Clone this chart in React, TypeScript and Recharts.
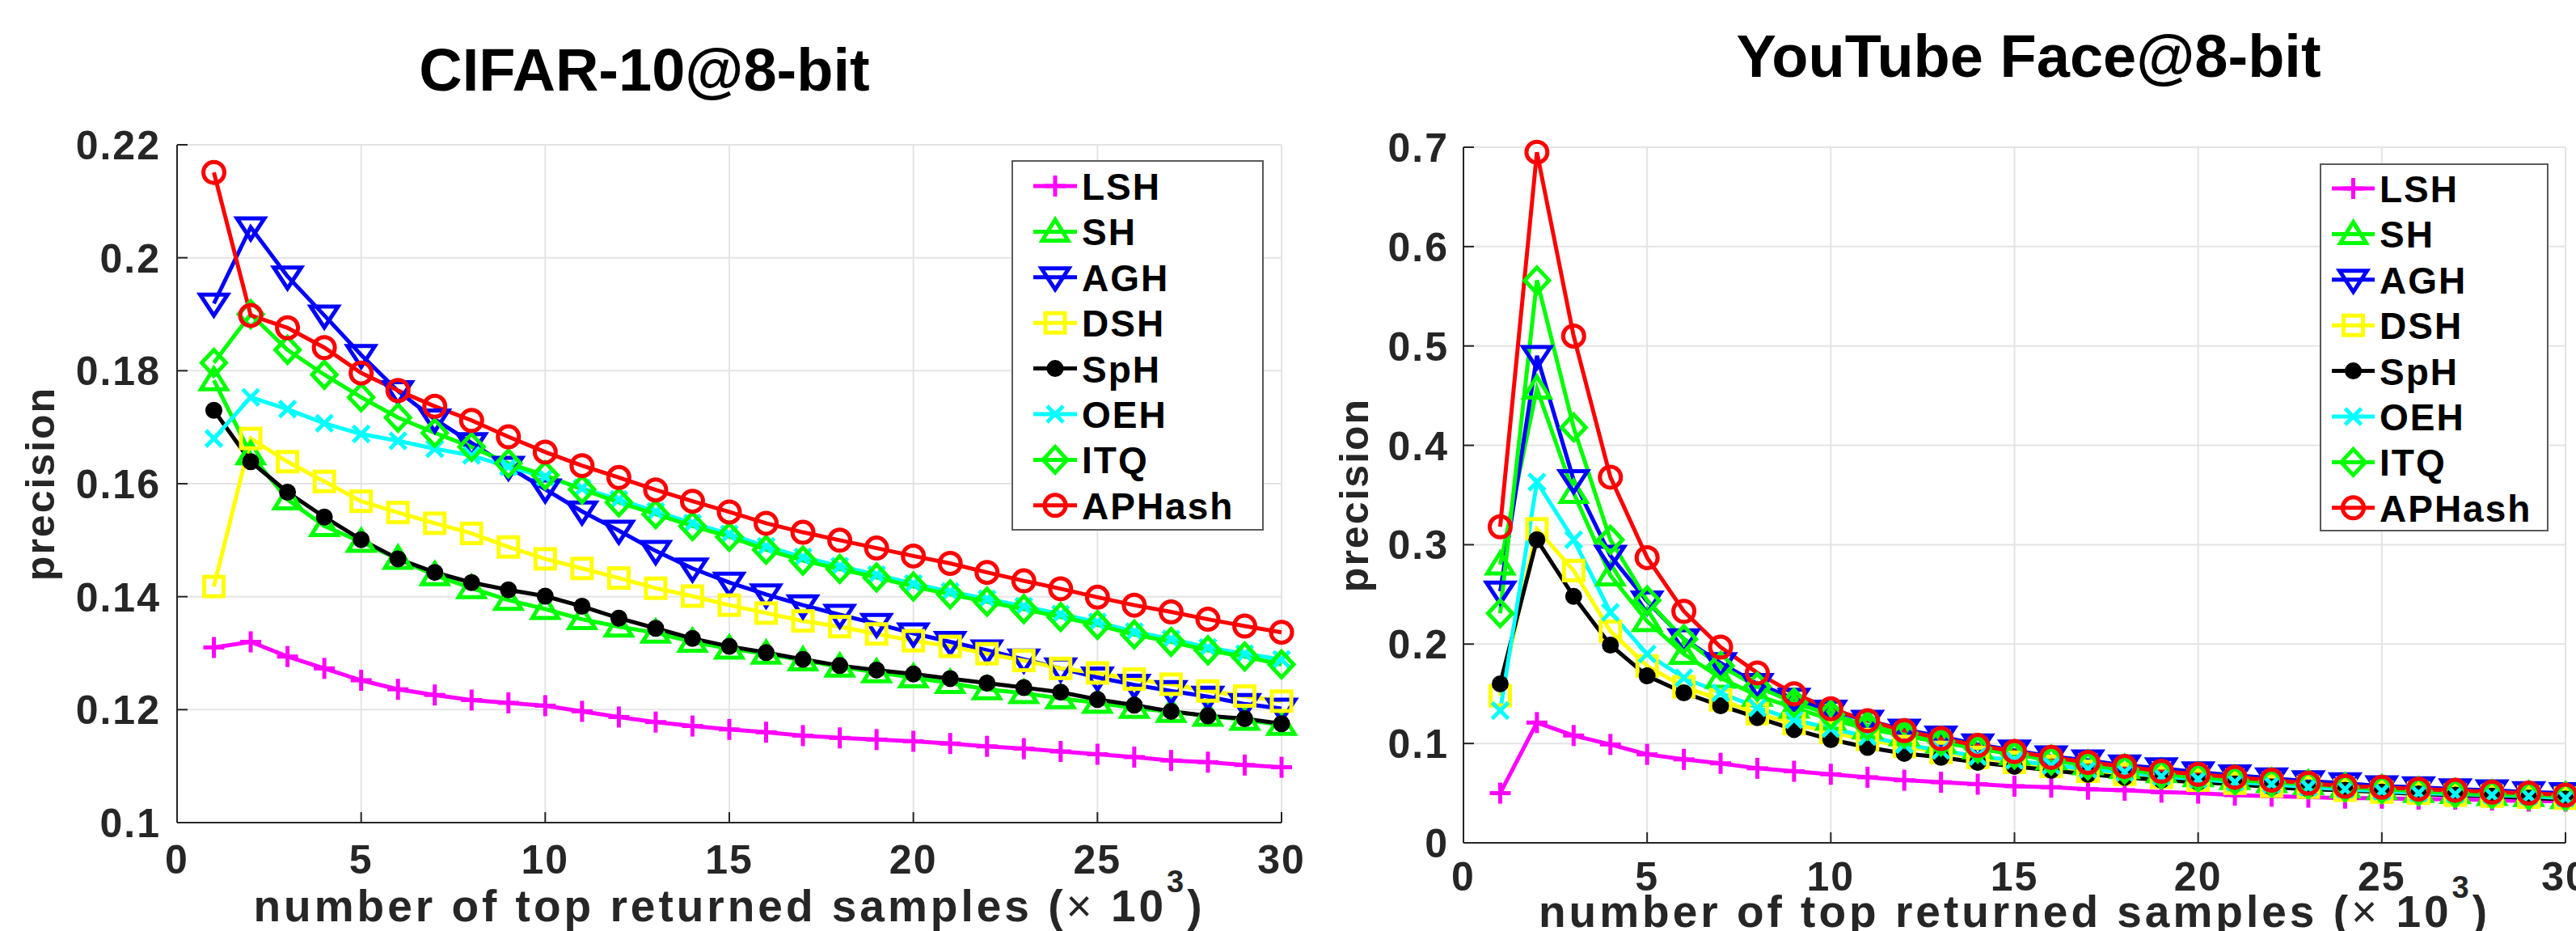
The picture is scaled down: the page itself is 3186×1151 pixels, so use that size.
import React from 'react';
import { CartesianGrid, Label, Legend, Line, LineChart, XAxis, YAxis } from 'recharts';

const FONT = '"Liberation Sans", Arial, Helvetica, sans-serif';
const AXIS = '#262626';
const GRID = '#e4e4e4';

const samples = [1, 2, 3, 4, 5, 6, 7, 8, 9, 10, 11, 12, 13, 14, 15, 16, 17, 18, 19, 20, 21, 22, 23, 24, 25, 26, 27, 28, 29, 30];
const xTicks = [0, 5, 10, 15, 20, 25, 30];
const cifarYTicks = [0.1, 0.12, 0.14, 0.16, 0.18, 0.2, 0.22];
const ytfYTicks = [0, 0.1, 0.2, 0.3, 0.4, 0.5, 0.6, 0.7];

const methods = ['LSH', 'SH', 'AGH', 'DSH', 'SpH', 'OEH', 'ITQ', 'APHash'];
const methodColors = ['#ff00ff', '#00ff00', '#0000ff', '#ffff00', '#000000', '#00ffff', '#00ff00', '#ff0000'];
const methodMarkers = ['plus', 'up', 'down', 'square', 'dot', 'cross', 'diamond', 'circle'];

// CIFAR-10 @ 8-bit
const cifarLSH = [0.1310, 0.1320, 0.1294, 0.1273, 0.1252, 0.1236, 0.1226, 0.1217, 0.1212, 0.1207, 0.1197, 0.1187, 0.1178, 0.1171, 0.1165, 0.1160, 0.1154, 0.1150, 0.1147, 0.1144, 0.1140, 0.1135, 0.1131, 0.1126, 0.1121, 0.1116, 0.1110, 0.1107, 0.1102, 0.1098];
const cifarSH = [0.1783, 0.1652, 0.1572, 0.1525, 0.1497, 0.1467, 0.1438, 0.1415, 0.1394, 0.1378, 0.1360, 0.1347, 0.1336, 0.1320, 0.1308, 0.1299, 0.1287, 0.1276, 0.1266, 0.1257, 0.1247, 0.1236, 0.1229, 0.1220, 0.1212, 0.1203, 0.1196, 0.1189, 0.1182, 0.1173];
const cifarAGH = [0.1919, 0.2054, 0.1967, 0.1898, 0.1828, 0.1764, 0.1714, 0.1672, 0.1630, 0.1590, 0.1551, 0.1517, 0.1481, 0.1450, 0.1425, 0.1404, 0.1385, 0.1368, 0.1352, 0.1335, 0.1320, 0.1305, 0.1289, 0.1273, 0.1257, 0.1244, 0.1233, 0.1223, 0.1210, 0.1202];
const cifarDSH = [0.1418, 0.1680, 0.1639, 0.1604, 0.1569, 0.1549, 0.1530, 0.1512, 0.1488, 0.1467, 0.1450, 0.1433, 0.1415, 0.1401, 0.1385, 0.1371, 0.1357, 0.1347, 0.1334, 0.1322, 0.1312, 0.1299, 0.1287, 0.1273, 0.1265, 0.1254, 0.1245, 0.1233, 0.1224, 0.1215];
const cifarSpH = [0.1730, 0.1639, 0.1585, 0.1541, 0.1501, 0.1467, 0.1443, 0.1425, 0.1412, 0.1401, 0.1383, 0.1362, 0.1344, 0.1326, 0.1312, 0.1301, 0.1289, 0.1278, 0.1270, 0.1263, 0.1255, 0.1247, 0.1239, 0.1231, 0.1218, 0.1208, 0.1197, 0.1189, 0.1184, 0.1175];
const cifarOEH = [0.1680, 0.1753, 0.1732, 0.1707, 0.1688, 0.1676, 0.1662, 0.1650, 0.1630, 0.1612, 0.1592, 0.1572, 0.1551, 0.1530, 0.1511, 0.1489, 0.1470, 0.1454, 0.1439, 0.1423, 0.1409, 0.1396, 0.1383, 0.1369, 0.1355, 0.1338, 0.1325, 0.1310, 0.1299, 0.1289];
const cifarITQ = [0.1814, 0.1900, 0.1837, 0.1793, 0.1753, 0.1717, 0.1690, 0.1665, 0.1636, 0.1615, 0.1590, 0.1567, 0.1546, 0.1525, 0.1506, 0.1483, 0.1464, 0.1449, 0.1434, 0.1418, 0.1404, 0.1391, 0.1378, 0.1364, 0.1350, 0.1333, 0.1320, 0.1305, 0.1294, 0.1280];
const cifarAPHash = [0.2151, 0.1898, 0.1876, 0.1841, 0.1796, 0.1765, 0.1737, 0.1712, 0.1683, 0.1656, 0.1632, 0.1611, 0.1589, 0.1569, 0.1550, 0.1530, 0.1514, 0.1500, 0.1486, 0.1472, 0.1459, 0.1443, 0.1428, 0.1414, 0.1399, 0.1385, 0.1373, 0.1360, 0.1348, 0.1337];

// YouTube Face @ 8-bit
const ytfLSH = [0.050, 0.121, 0.108, 0.099, 0.089, 0.084, 0.080, 0.075, 0.072, 0.069, 0.066, 0.063, 0.061, 0.059, 0.057, 0.056, 0.054, 0.053, 0.051, 0.050, 0.048, 0.047, 0.046, 0.045, 0.045, 0.044, 0.044, 0.043, 0.042, 0.042];
const ytfSH = [0.280, 0.457, 0.352, 0.269, 0.223, 0.190, 0.166, 0.148, 0.136, 0.124, 0.115, 0.108, 0.101, 0.095, 0.089, 0.084, 0.079, 0.075, 0.071, 0.067, 0.064, 0.061, 0.059, 0.056, 0.054, 0.051, 0.050, 0.048, 0.047, 0.045];
const ytfAGH = [0.253, 0.490, 0.365, 0.289, 0.243, 0.205, 0.181, 0.160, 0.145, 0.133, 0.123, 0.114, 0.107, 0.099, 0.093, 0.087, 0.083, 0.078, 0.075, 0.071, 0.068, 0.065, 0.062, 0.060, 0.057, 0.056, 0.054, 0.053, 0.051, 0.050];
const ytfDSH = [0.148, 0.316, 0.274, 0.213, 0.178, 0.157, 0.144, 0.130, 0.120, 0.111, 0.104, 0.097, 0.091, 0.086, 0.081, 0.077, 0.072, 0.069, 0.066, 0.063, 0.060, 0.057, 0.056, 0.053, 0.051, 0.050, 0.048, 0.047, 0.046, 0.045];
const ytfSpH = [0.160, 0.305, 0.248, 0.199, 0.168, 0.151, 0.138, 0.126, 0.114, 0.104, 0.096, 0.090, 0.086, 0.081, 0.077, 0.073, 0.069, 0.066, 0.063, 0.061, 0.059, 0.056, 0.054, 0.053, 0.051, 0.049, 0.048, 0.047, 0.045, 0.044];
const ytfOEH = [0.133, 0.363, 0.305, 0.232, 0.190, 0.166, 0.151, 0.136, 0.124, 0.115, 0.107, 0.099, 0.093, 0.087, 0.083, 0.078, 0.074, 0.071, 0.067, 0.064, 0.061, 0.059, 0.056, 0.054, 0.052, 0.050, 0.049, 0.048, 0.047, 0.045];
const ytfITQ = [0.231, 0.566, 0.418, 0.305, 0.244, 0.205, 0.178, 0.157, 0.141, 0.129, 0.118, 0.110, 0.102, 0.095, 0.089, 0.083, 0.078, 0.074, 0.069, 0.066, 0.063, 0.061, 0.059, 0.056, 0.054, 0.052, 0.050, 0.049, 0.048, 0.047];
const ytfAPHash = [0.318, 0.695, 0.510, 0.368, 0.287, 0.233, 0.197, 0.171, 0.150, 0.135, 0.123, 0.113, 0.105, 0.098, 0.092, 0.086, 0.081, 0.077, 0.072, 0.069, 0.066, 0.063, 0.060, 0.057, 0.056, 0.054, 0.053, 0.051, 0.050, 0.048];

const buildRows = (series: number[][]) =>
  samples.map((s, i) => {
    const row: any = { x: s };
    methods.forEach((m, j) => { row[m] = series[j][i]; });
    return row;
  });

const cifarRows = buildRows([cifarLSH, cifarSH, cifarAGH, cifarDSH, cifarSpH, cifarOEH, cifarITQ, cifarAPHash]);
const ytfRows = buildRows([ytfLSH, ytfSH, ytfAGH, ytfDSH, ytfSpH, ytfOEH, ytfITQ, ytfAPHash]);

const LW = 5;

const Marker = ({ shape, color, cx, cy }: { shape: string; color: string; cx: number; cy: number }) => {
  const common = { stroke: color, strokeWidth: LW, fill: 'none' };
  switch (shape) {
    case 'plus':
      return (
        <g {...common}>
          <line x1={cx - 13} y1={cy} x2={cx + 13} y2={cy} />
          <line x1={cx} y1={cy - 13} x2={cx} y2={cy + 13} />
        </g>
      );
    case 'cross':
      return (
        <g {...common}>
          <line x1={cx - 10} y1={cy - 10} x2={cx + 10} y2={cy + 10} />
          <line x1={cx - 10} y1={cy + 10} x2={cx + 10} y2={cy - 10} />
        </g>
      );
    case 'up':
      return <polygon {...common} points={`${cx},${cy - 15} ${cx + 16},${cy + 11} ${cx - 16},${cy + 11}`} />;
    case 'down':
      return <polygon {...common} points={`${cx},${cy + 15} ${cx + 17},${cy - 11} ${cx - 17},${cy - 11}`} />;
    case 'square':
      return <rect {...common} x={cx - 12} y={cy - 12} width={24} height={24} />;
    case 'diamond':
      return <polygon {...common} points={`${cx},${cy - 16} ${cx + 15},${cy} ${cx},${cy + 16} ${cx - 15},${cy}`} />;
    case 'dot':
      return <circle cx={cx} cy={cy} r={9} fill={color} stroke={color} strokeWidth={3} />;
    default:
      return <circle {...common} cx={cx} cy={cy} r={13} />;
  }
};

const fmt = (v: number) => String(Number(v.toFixed(2)));

const tickText = { fill: AXIS, fontFamily: FONT, fontWeight: 'bold' as const, fontSize: 50, letterSpacing: 2 };

const makeYTick = (gap: number) => (props: any) => {
  const { x, y, payload } = props;
  return (
    <g>
      <line x1={x} y1={y} x2={x + 13} y2={y} stroke={AXIS} strokeWidth={2} />
      <text x={x - gap} y={y + 18} textAnchor="end" {...tickText}>{fmt(payload.value)}</text>
    </g>
  );
};

const makeXTick = (dy: number) => (props: any) => {
  const { x, y, payload } = props;
  return (
    <g>
      <line x1={x} y1={y} x2={x} y2={y - 13} stroke={AXIS} strokeWidth={2} />
      <text x={x} y={y + dy} textAnchor="middle" {...tickText}>{payload.value}</text>
    </g>
  );
};

interface LegendSpec { left: number; top: number; width: number; height: number; rowTop: number; lineX1: number; lineX2: number; textX: number; }

const LegendBox = ({ payload, spec }: { payload?: any[]; spec: LegendSpec }) => {
  const items = [...(payload || [])].sort((a, b) => methods.indexOf(a.value) - methods.indexOf(b.value));
  return (
    <svg width={spec.width} height={spec.height} style={{ display: 'block' }}>
      <rect x={1} y={1} width={spec.width - 2} height={spec.height - 2} fill="#fff" stroke="#5a5a5a" strokeWidth={2} />
      {items.map((p: any, i: number) => {
        const idx = methods.indexOf(p.value);
        const y = spec.rowTop + i * 56.4;
        const mid = (spec.lineX1 + spec.lineX2) / 2;
        return (
          <g key={p.value}>
            <line x1={spec.lineX1} y1={y} x2={spec.lineX2} y2={y} stroke={p.color} strokeWidth={LW} />
            <Marker shape={methodMarkers[idx]} color={p.color} cx={mid} cy={y} />
            <text x={spec.textX} y={y + 17} fill="#000" fontFamily={FONT} fontWeight="bold" fontSize={46} letterSpacing={2}>{p.value}</text>
          </g>
        );
      })}
    </svg>
  );
};

interface PanelProps {
  rows: any[];
  yTicks: number[];
  yDomain: [number, number];
  left: number;
  width: number;
  margin: { top: number; right: number; bottom: number; left: number };
  legend: LegendSpec;
  yTickGap: number;
  xTickDy: number;
  yLabelX: number;
  xLabelY: number;
}

const Panel = ({ rows, yTicks, yDomain, left, width, margin, legend, yTickGap, xTickDy, yLabelX, xLabelY }: PanelProps) => {
  const plotLeft = margin.left + 1;
  const plotBottom = 1151 - margin.bottom - 1;
  const plotCx = (plotLeft + width - margin.right) / 2;
  const plotCy = (margin.top + plotBottom) / 2;
  return (
    <div style={{ position: 'absolute', left, top: 0 }}>
      <LineChart width={width} height={1151} data={rows} margin={margin}>
        <CartesianGrid stroke={GRID} strokeWidth={2} />
        <XAxis
          dataKey="x"
          type="number"
          domain={[0, 30]}
          ticks={xTicks}
          interval={0}
          height={1}
          tickSize={0}
          tickMargin={0}
          axisLine={{ stroke: AXIS, strokeWidth: 2 }}
          tickLine={false}
          tick={makeXTick(xTickDy)}
        >
          <Label
            content={() => (
              <text x={plotCx} y={xLabelY} textAnchor="middle" fill={AXIS} fontFamily={FONT} fontWeight="bold" fontSize={55} letterSpacing={4}>
                number of top returned samples (<tspan fontWeight="normal">×</tspan> 10<tspan dy={-36} fontSize={38}>3</tspan><tspan dy={36}>)</tspan>
              </text>
            )}
          />
        </XAxis>
        <YAxis
          type="number"
          domain={yDomain}
          ticks={yTicks}
          interval={0}
          width={1}
          tickSize={0}
          tickMargin={0}
          axisLine={{ stroke: AXIS, strokeWidth: 2 }}
          tickLine={false}
          tick={makeYTick(yTickGap)}
        >
          <Label
            content={() => (
              <text x={yLabelX} y={plotCy} transform={`rotate(-90, ${yLabelX}, ${plotCy})`} textAnchor="middle" fill={AXIS} fontFamily={FONT} fontWeight="bold" fontSize={50} letterSpacing={2}>
                precision
              </text>
            )}
          />
        </YAxis>
        <Legend
          layout="vertical"
          align="center"
          verticalAlign="middle"
          wrapperStyle={{ left: legend.left, top: legend.top, width: legend.width, height: legend.height }}
          content={(p: any) => <LegendBox payload={p.payload} spec={legend} />}
        />
        {methods.map((m, i) => (
          <Line
            key={m}
            dataKey={m}
            name={m}
            stroke={methodColors[i]}
            strokeWidth={LW}
            isAnimationActive={false}
            dot={(d: any) =>
              d.cx == null || d.cy == null ? <g key={`${m}-${d.index}`} /> : (
                <g key={`${m}-${d.index}`}>
                  <Marker shape={methodMarkers[i]} color={methodColors[i]} cx={d.cx} cy={d.cy} />
                </g>
              )
            }
            activeDot={false}
          />
        ))}
      </LineChart>
    </div>
  );
};

const titleStyle = { fill: '#000', fontFamily: FONT, fontWeight: 'bold' as const, fontSize: 74 };

export default function App() {
  return (
    <div style={{ position: 'absolute', left: 0, top: 0, width: 3186, height: 1151, overflow: 'hidden', background: '#fff' }}>
      <svg width={3186} height={150} style={{ position: 'absolute', left: 0, top: 0 }}>
        <text x={797} y={112} textAnchor="middle" {...titleStyle}>CIFAR-10@8-bit</text>
        <text x={2509} y={95} textAnchor="middle" {...titleStyle}>YouTube Face@8-bit</text>
      </svg>
      <Panel
        rows={cifarRows}
        yTicks={cifarYTicks}
        yDomain={[0.1, 0.22]}
        left={0}
        width={1640}
        margin={{ top: 179, right: 55, bottom: 133, left: 218 }}
        legend={{ left: 1251, top: 198, width: 312, height: 458, rowTop: 32, lineX1: 27, lineX2: 81, textX: 87 }}
        yTickGap={20}
        xTickDy={63}
        yLabelX={67}
        xLabelY={1139}
      />
      <Panel
        rows={ytfRows}
        yTicks={ytfYTicks}
        yDomain={[0, 0.7]}
        left={1600}
        width={1586}
        margin={{ top: 182, right: 13, bottom: 108, left: 209 }}
        legend={{ left: 1269, top: 202, width: 283, height: 455, rowTop: 31, lineX1: 15, lineX2: 68, textX: 74 }}
        yTickGap={18}
        xTickDy={59}
        yLabelX={92}
        xLabelY={1146}
      />
    </div>
  );
}
